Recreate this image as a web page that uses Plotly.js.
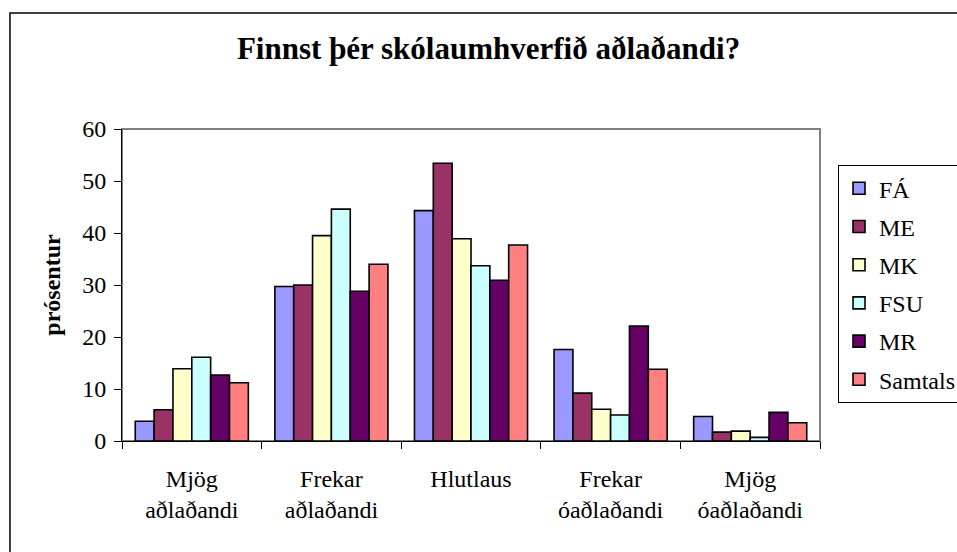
<!DOCTYPE html>
<html>
<head>
<meta charset="utf-8">
<script src="https://cdn.plot.ly/plotly-3.0.1.min.js"></script>
<style>
html,body{margin:0;padding:0;background:#fff;}
#chart{width:957px;height:552px;}
</style>
</head>
<body>
<div id="chart"></div>
<script>
var categories = ["Mjög<br>aðlaðandi", "Frekar<br>aðlaðandi", "Hlutlaus", "Frekar<br>óaðlaðandi", "Mjög<br>óaðlaðandi"];
var seriesNames = ["FÁ", "ME", "MK", "FSU", "MR", "Samtals"];
var FA      = [3.8, 29.7, 44.3, 17.6, 4.7];
var ME      = [6.0, 30.0, 53.4, 9.2, 1.7];
var MK      = [13.9, 39.5, 38.9, 6.1, 1.9];
var FSU     = [16.1, 44.6, 33.7, 5.0, 0.7];
var MR      = [12.7, 28.8, 30.9, 22.1, 5.5];
var Samtals = [11.2, 34.0, 37.7, 13.8, 3.5];
var yTicks = [0, 10, 20, 30, 40, 50, 60];

var seriesValues = [FA, ME, MK, FSU, MR, Samtals];
var colors = ["#9999FF", "#993366", "#FFFFCC", "#CCFFFF", "#660066", "#FF8080"];
var fontFam = "Liberation Serif";

var traces = seriesNames.map(function (n, i) {
  return {
    type: "bar",
    name: n,
    x: categories,
    y: seriesValues[i],
    legendgroup: "g" + i,
    marker: { color: colors[i], line: { color: "#000", width: 1.6 } },
    hoverinfo: "name+y"
  };
});

var layout = {
  width: 957,
  height: 552,
  paper_bgcolor: "#fff",
  plot_bgcolor: "#fff",
  margin: { l: 122, r: 137, t: 129, b: 111, autoexpand: false },
  barmode: "group",
  bargap: 0.19,
  bargroupgap: 0,
  title: {
    text: "<b>Finnst þér skólaumhverfið aðlaðandi?</b>",
    font: { family: fontFam, size: 31, color: "#000" },
    x: 0.5105, xanchor: "center",
    y: 0.913, yanchor: "middle"
  },
  font: { family: fontFam, color: "#000" },
  xaxis: {
    type: "category",
    tickson: "boundaries",
    ticks: "outside",
    ticklen: 7,
    tickcolor: "#000",
    tickwidth: 1,
    showline: true,
    linecolor: "#000",
    linewidth: 1,
    showgrid: false,
    zeroline: false,
    ticklabelstandoff: 16,
    tickfont: { family: fontFam, size: 24, color: "#000" }
  },
  yaxis: {
    range: [0, 60],
    tickvals: yTicks,
    ticktext: yTicks.map(String),
    ticks: "outside",
    ticklen: 7,
    tickcolor: "#000",
    showline: true,
    linecolor: "#000",
    linewidth: 1,
    showgrid: false,
    zeroline: false,
    ticklabelstandoff: 3,
    tickfont: { family: fontFam, size: 24, color: "#000" },
    title: {
      text: "<b>prósentur</b>",
      font: { family: fontFam, size: 24, color: "#000" },
      standoff: 14
    }
  },
  legend: {
    x: 1.0258, xanchor: "left",
    y: 0.884, yanchor: "top",
    bgcolor: "#fff",
    bordercolor: "#000",
    borderwidth: 1,
    traceorder: "grouped",
    tracegroupgap: 4,
    itemwidth: 30,
    font: { family: fontFam, size: 24, color: "#000" }
  },
  showlegend: true,
  shapes: [
    { type: "rect", xref: "paper", yref: "paper", x0: 0, x1: 1, y0: 0, y1: 1,
      line: { color: "#808080", width: 2 }, layer: "below" },
    { type: "rect", xref: "paper", yref: "paper", x0: -0.1605, x1: 1.5, y0: -0.5, y1: 1.3718,
      line: { color: "#000", width: 1.5 }, layer: "below" }
  ]
};

Plotly.newPlot("chart", traces, layout, { displayModeBar: false, staticPlot: true });
</script>
</body>
</html>
